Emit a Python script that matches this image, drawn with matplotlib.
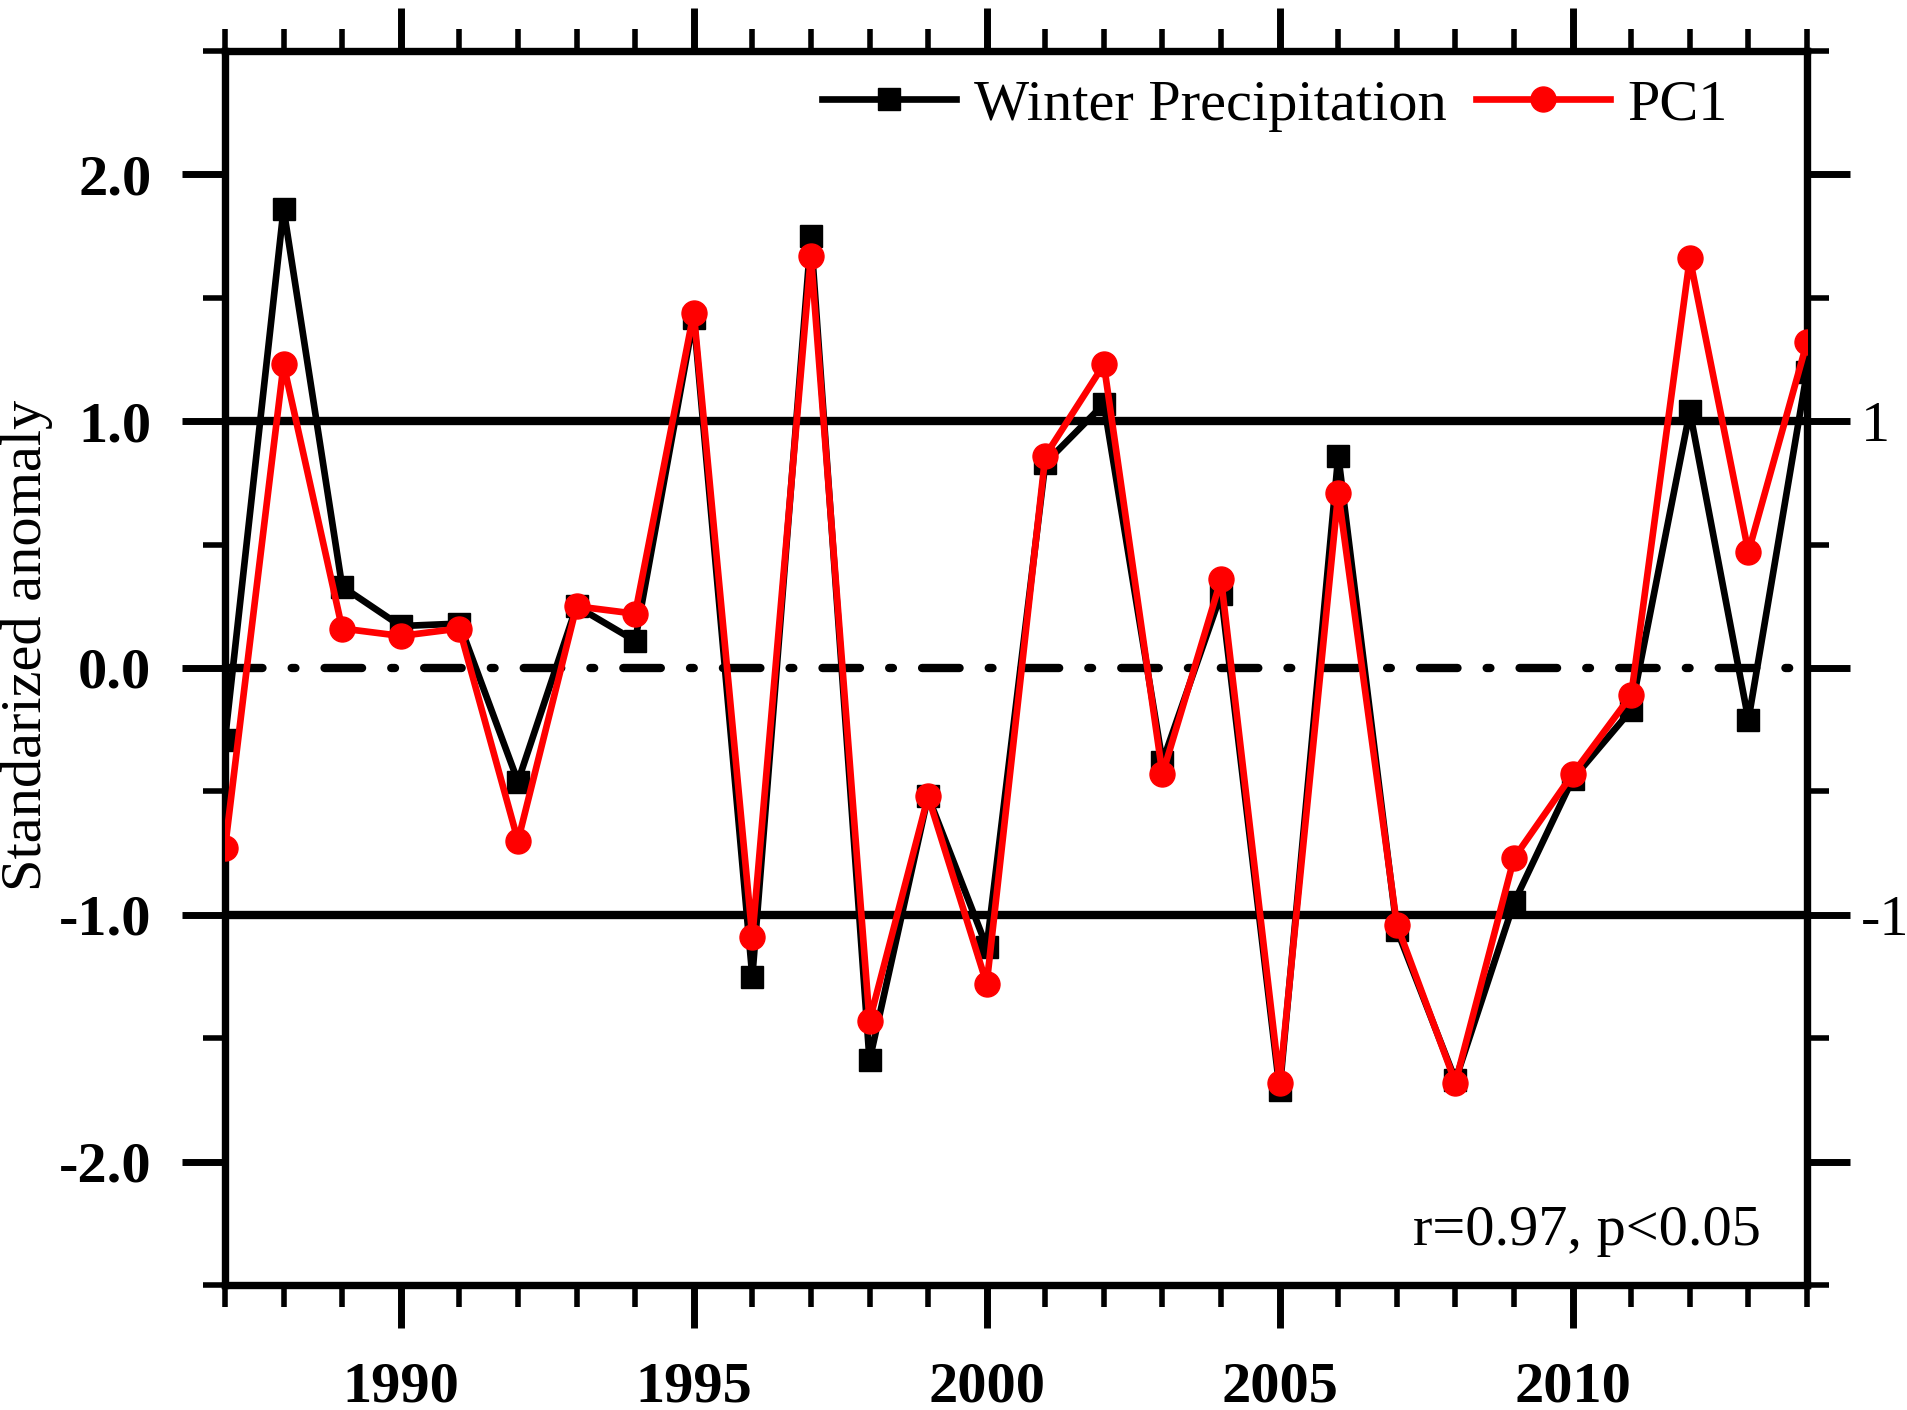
import matplotlib
matplotlib.use("Agg")
import matplotlib.pyplot as plt
from matplotlib.ticker import MultipleLocator, FixedLocator, FixedFormatter

plt.rcParams['font.family'] = ['Liberation Serif', 'DejaVu Serif']

years = list(range(1987, 2015))
winter_precip = [-0.29, 1.86, 0.33, 0.17, 0.18, -0.46, 0.25, 0.11, 1.42, -1.25,
                 1.75, -1.59, -0.52, -1.13, 0.83, 1.07, -0.38, 0.30, -1.71, 0.86,
                 -1.06, -1.67, -0.95, -0.45, -0.17, 1.04, -0.21, 1.20]
pc1 = [-0.73, 1.23, 0.16, 0.13, 0.16, -0.70, 0.25, 0.22, 1.44, -1.09,
       1.67, -1.43, -0.52, -1.28, 0.86, 1.23, -0.43, 0.36, -1.68, 0.71,
       -1.04, -1.68, -0.77, -0.43, -0.11, 1.66, 0.47, 1.32]

left_ticks = [-2.0, -1.0, 0.0, 1.0, 2.0]
left_labels = ['-2.0', '-1.0', '0.0', '1.0', '2.0']
right_ticks = [-2, -1, 0, 1, 2]
right_labels = ['', '-1', '', '1', '']
x_ticks = [1990, 1995, 2000, 2005, 2010]
annotation = 'r=0.97, p<0.05'

W, H = 1908, 1410
fig = plt.figure(figsize=(W / 100, H / 100), dpi=100)
L, R, T, B = 225, 1807, 51, 1285
ax = fig.add_axes([L / W, 1 - B / H, (R - L) / W, (B - T) / H])

FS = 42
heavy = 6.0
spine_lw = 5.3
data_lw = 4.8
maj_w, min_w = 5.0, 4.0

# reference lines
ax.axhline(1.0, color='black', lw=heavy, zorder=1)
ax.axhline(-1.0, color='black', lw=heavy, zorder=1)
ax.axhline(0.0, color='black', lw=heavy, zorder=1,
           linestyle=(0, (4.5, 3.5, 0.45, 3.5)), dash_capstyle='round')

l1, = ax.plot(years, winter_precip, color='black', lw=data_lw, marker='s',
              markersize=15.5, label='Winter Precipitation', zorder=3)
l2, = ax.plot(years, pc1, color='#ff0000', lw=data_lw, marker='o',
              markersize=18, label='PC1', zorder=4)

ax.set_xlim(1987, 2014)
ax.set_ylim(-2.5, 2.5)

ax.xaxis.set_major_locator(FixedLocator(x_ticks))
ax.xaxis.set_minor_locator(MultipleLocator(1))
ax.yaxis.set_major_locator(FixedLocator(left_ticks))
ax.yaxis.set_major_formatter(FixedFormatter(left_labels))
ax.yaxis.set_minor_locator(MultipleLocator(0.5))

for s in ax.spines.values():
    s.set_linewidth(spine_lw)

ax.tick_params(axis='both', which='major', direction='out', length=31, width=maj_w)
ax.tick_params(axis='both', which='minor', direction='out', length=16, width=min_w)
ax.tick_params(axis='x', which='both', top=True, bottom=True)
ax.tick_params(axis='x', which='major', pad=24, labelsize=FS)
ax.tick_params(axis='y', which='major', pad=22, labelsize=FS)
for lab in ax.get_xticklabels() + ax.get_yticklabels():
    lab.set_fontweight('bold')

ax2 = ax.twinx()
ax2.set_ylim(-2.5, 2.5)
ax2.yaxis.set_major_locator(FixedLocator(right_ticks))
ax2.yaxis.set_major_formatter(FixedFormatter(right_labels))
ax2.yaxis.set_minor_locator(MultipleLocator(0.5))
for s in ax2.spines.values():
    s.set_visible(False)
ax2.tick_params(axis='y', which='major', direction='out', length=31, width=maj_w,
                pad=8, labelsize=FS)
ax2.tick_params(axis='y', which='minor', direction='out', length=16, width=min_w)

fig.text(27 / W, 1 - 645 / H, 'Standarized anomaly', rotation=90,
         ha='center', va='center', fontsize=FS)

ax.text(0.971, 0.0324, annotation, transform=ax.transAxes, ha='right',
        va='baseline', fontsize=FS)

leg = ax.legend(handles=[l1, l2], loc='center right', bbox_to_anchor=(0.95, 0.956),
                ncol=2, frameon=False, fontsize=FS, handlelength=2.3,
                handletextpad=0.3, columnspacing=0.5, borderpad=0, borderaxespad=0)

fig.savefig('out.png', dpi=100)
